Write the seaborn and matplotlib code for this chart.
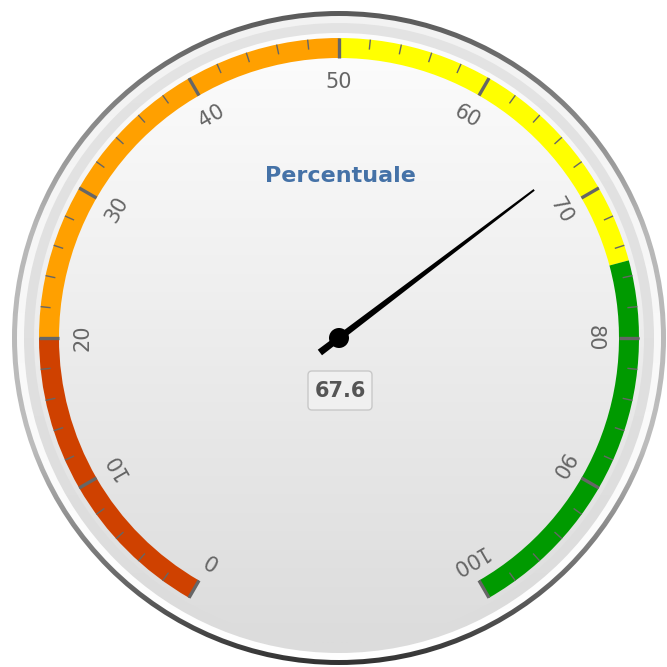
"""
Gauge chart - Percentuale
Solid gauge with coloured plot bands and a single needle
"""

import numpy as np
import matplotlib
matplotlib.use("Agg")
import matplotlib.pyplot as plt
import seaborn as sns
from matplotlib.patches import Circle, Wedge, Polygon, FancyBboxPatch
from matplotlib.colors import LinearSegmentedColormap

sns.set_theme(style="white")
plt.rcParams['font.family'] = ['DejaVu Sans']

# Gauge data
title = "Percentuale"
gauge_value = 67.6
axis_min = 0
axis_max = 100
major_ticks = [0, 10, 20, 30, 40, 50, 60, 70, 80, 90, 100]
minor_step = 2
band_from = [0, 20, 50, 75]
band_to = [20, 50, 75, 100]
band_colors = ["#CF4100", "#FFA000", "#FFFF00", "#009A00"]

# Pane geometry (pixel coordinates, y grows downward)
CX, CY = 339, 338
R = 300
START, END = -150, 150


def to_angle(v):
    """Map a value to degrees, clockwise from 12 o'clock"""
    return START + (v - axis_min) / (axis_max - axis_min) * (END - START)


def polar(v, r):
    t = np.radians(to_angle(v))
    return CX + r * np.sin(t), CY - r * np.cos(t)


def gradient_disk(ax, r, stops, z):
    """Disk filled with a vertical gradient"""
    cmap = LinearSegmentedColormap.from_list("g", stops)
    img = np.linspace(0, 1, 256).reshape(-1, 1)
    im = ax.imshow(img, cmap=cmap, extent=(CX - r, CX + r, CY + r, CY - r),
                   origin='upper', aspect='auto', zorder=z, interpolation='bilinear')
    clip = Circle((CX, CY), r, transform=ax.transData)
    im.set_clip_path(clip)


fig = plt.figure(figsize=(6.67, 6.67), dpi=100)
ax = fig.add_axes([0, 0, 1, 1])

# Pane background layers
gradient_disk(ax, 327, ["#5A5A5A", "#B8B8B8", "#BDBDBD", "#333333"], 1)
gradient_disk(ax, 322, ["#F2F2F2", "#FFFFFF"], 2)
gradient_disk(ax, 315, ["#E4E4E4", "#DCDCDC"], 3)
gradient_disk(ax, 305, ["#FDFDFD", "#DCDCDC"], 4)

# Plot bands
for v0, v1, c in zip(band_from, band_to, band_colors):
    ax.add_patch(Wedge((CX, CY), R, to_angle(v0) - 90, to_angle(v1) - 90,
                       width=20, facecolor=c, edgecolor='none', zorder=5))

# Minor and major ticks
for v in np.arange(axis_min, axis_max + minor_step, minor_step):
    x0, y0 = polar(v, R)
    x1, y1 = polar(v, R - 10)
    ax.plot([x0, x1], [y0, y1], color='#666666', lw=1.0, zorder=6,
            solid_capstyle='butt')
for v in major_ticks:
    x0, y0 = polar(v, R)
    x1, y1 = polar(v, R - 20)
    ax.plot([x0, x1], [y0, y1], color='#666666', lw=2.4, zorder=7,
            solid_capstyle='butt')
    lx, ly = polar(v, 256)
    ax.text(lx, ly, str(v), rotation=-to_angle(v), rotation_mode='anchor',
            ha='center', va='center', fontsize=15, color='#666666', zorder=7)

# Title
ax.text(340, 176, title, ha='center', va='center', fontsize=16,
        fontweight='bold', color='#4572A7', zorder=7)

# Needle
t = np.radians(to_angle(gauge_value))
u = np.array([np.sin(t), -np.cos(t)])
n = np.array([np.cos(t), np.sin(t)])
c = np.array([CX, CY])
rear, length, base_w, top_w = 24, 245, 7, 2
needle = [c - rear * u + base_w / 2 * n,
          c + length * u + top_w / 2 * n,
          c + length * u - top_w / 2 * n,
          c - rear * u - base_w / 2 * n]
ax.add_patch(Polygon(needle, closed=True, facecolor='black', edgecolor='none', zorder=8))
ax.add_patch(Circle((CX, CY), 10, facecolor='black', edgecolor='none', zorder=9))

# Value label box
ax.add_patch(FancyBboxPatch((308, 371), 64, 39,
                            boxstyle="round,pad=0,rounding_size=4",
                            facecolor='#F0F0F0', edgecolor='#C8C8C8', lw=1, zorder=8))
ax.text(340, 391, f"{gauge_value:.1f}", ha='center', va='center', fontsize=15,
        fontweight='bold', color='#555555', zorder=9)

ax.set_xlim(0, 667)
ax.set_ylim(667, 0)
ax.axis('off')

plt.savefig('out.png', dpi=100, facecolor='white')
